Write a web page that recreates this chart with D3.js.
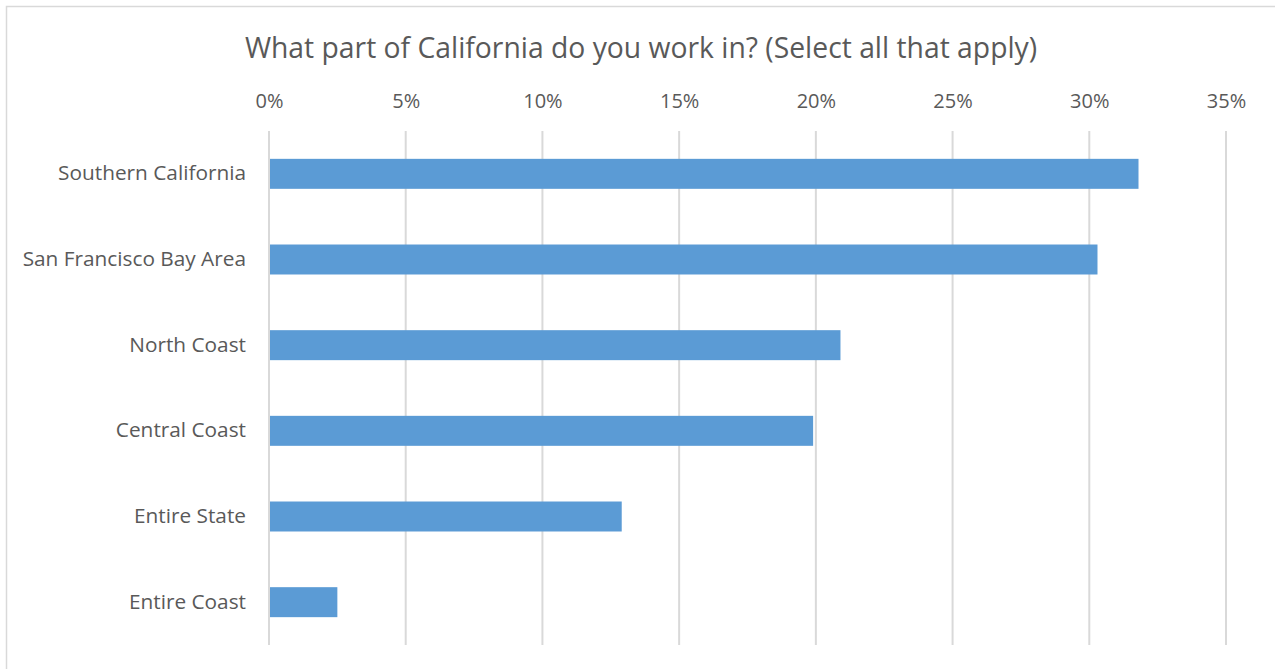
<!DOCTYPE html>
<html>
<head>
<meta charset="utf-8">
<script src="https://cdn.jsdelivr.net/npm/d3@7"></script>
<style>
  body { margin: 0; background: #fff; }
  text { font-family: "Open Sans", "Noto Sans", sans-serif; fill: #595959; }
</style>
</head>
<body>
<svg id="chart"></svg>
<script>
const categories = ["Southern California", "San Francisco Bay Area", "North Coast", "Central Coast", "Entire State", "Entire Coast"];
const values = [31.8, 30.3, 20.9, 19.9, 12.9, 2.5];
const tickValues = [0, 5, 10, 15, 20, 25, 30, 35];
const title = "What part of California do you work in? (Select all that apply)";

const width = 1275, height = 669;
const margin = { top: 131, right: 49, bottom: 24, left: 269 };

const svg = d3.select("#chart").attr("width", width).attr("height", height);

// chart frame
svg.append("rect")
    .attr("x", 6.5).attr("y", 6.5)
    .attr("width", width).attr("height", height)
    .attr("fill", "none").attr("stroke", "#d9d9d9").attr("stroke-width", 1.5);

const xScale = d3.scaleLinear().domain([0, 35]).range([margin.left, width - margin.right]);
const yScale = d3.scaleBand().domain(categories).range([margin.top, height - margin.bottom]).paddingInner(0.65).paddingOuter(0.325);

// gridlines
svg.append("g").selectAll("line")
    .data(tickValues)
    .join("line")
    .attr("x1", d => xScale(d)).attr("x2", d => xScale(d))
    .attr("y1", margin.top).attr("y2", height - margin.bottom)
    .attr("stroke", "#d9d9d9").attr("stroke-width", 2);

// top axis labels
const xAxis = svg.append("g")
    .attr("transform", `translate(0, ${margin.top - 23})`)
    .call(d3.axisTop(xScale).tickValues(tickValues).tickSize(0).tickPadding(0).tickFormat(d => d + "%"));
xAxis.select(".domain").remove();
xAxis.selectAll("text").style("font-size", "20px").attr("fill", "#595959");

// category labels
const yAxis = svg.append("g")
    .attr("transform", `translate(${margin.left - 23}, 0)`)
    .call(d3.axisLeft(yScale).tickSize(0).tickPadding(0));
yAxis.select(".domain").remove();
yAxis.selectAll("text").style("font-size", "20.8px").attr("fill", "#595959");

// bars
svg.append("g").selectAll("rect")
    .data(values)
    .join("rect")
    .attr("x", xScale(0) + 1)
    .attr("y", (d, i) => yScale(categories[i]))
    .attr("width", d => xScale(d) - xScale(0) - 1)
    .attr("height", yScale.bandwidth())
    .attr("fill", "#5b9bd5");

svg.append("text")
    .attr("x", 641).attr("y", 58)
    .attr("text-anchor", "middle")
    .style("font-size", "28.3px")
    .text(title);
</script>
</body>
</html>
